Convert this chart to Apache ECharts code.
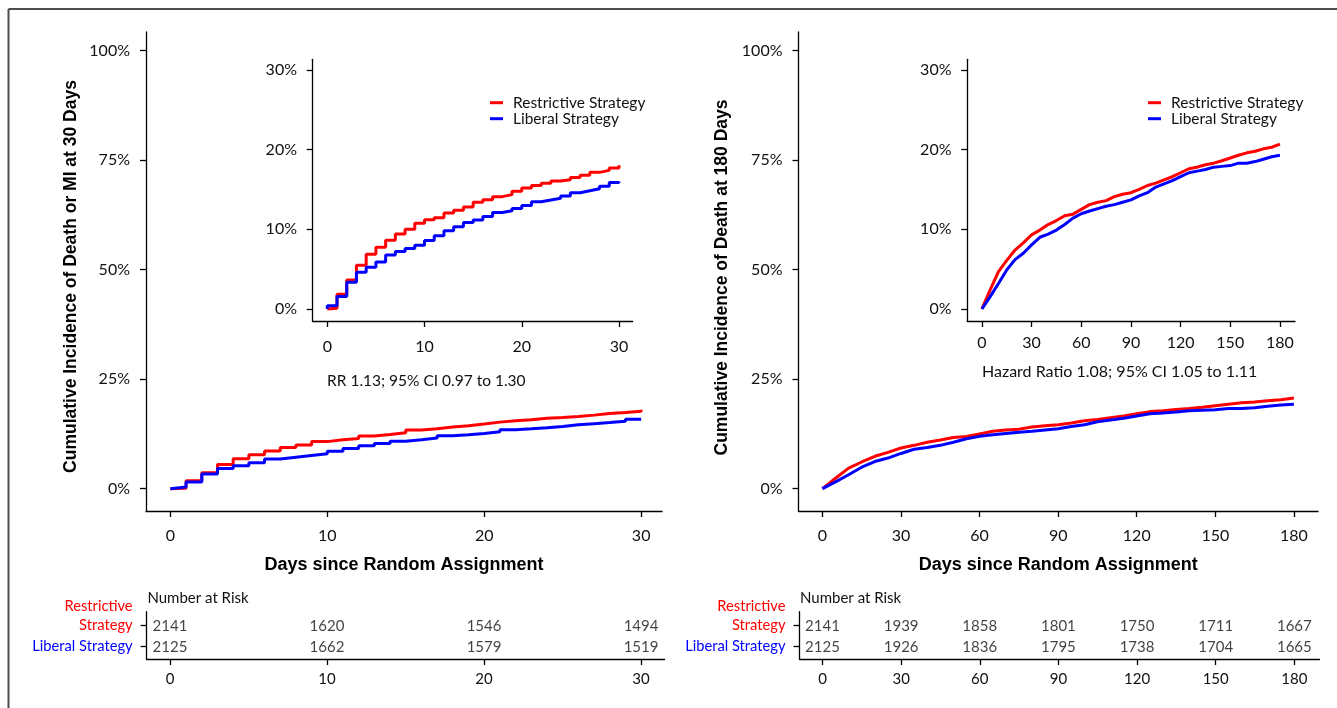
<!DOCTYPE html>
<html><head><meta charset="utf-8">
<script src="https://cdn.jsdelivr.net/npm/echarts@6/dist/echarts.min.js"></script>
<style>html,body{margin:0;padding:0;background:#fff}#c{width:1337px;height:708px}</style>
</head><body><div id="c"></div>
<script>
// ---------- data ----------
const seriesNames = ['Restrictive Strategy', 'Liberal Strategy'];
const days30 = [0,1,2,3,4,5,6,7,8,9,10,11,12,13,14,15,16,17,18,19,20,21,22,23,24,25,26,27,28,29,30];
const restrictive30 = [0.1,1.84,3.64,5.5,6.86,7.74,8.62,9.4,10.0,10.75,11.2,11.46,12.05,12.4,12.8,13.4,13.7,14.1,14.35,14.77,15.2,15.5,15.77,16.07,16.23,16.5,16.8,17.15,17.4,17.7,18.05];
const liberal30 = [0.4,1.55,3.35,4.6,5.23,5.9,6.78,7.2,7.6,8.0,8.58,9.2,9.83,10.33,10.84,11.17,11.6,12.1,12.34,12.6,13.0,13.47,13.68,13.9,14.18,14.6,14.85,15.1,15.4,15.86,16.0];
const days180 = [0,5,10,15,20,25,30,35,40,45,50,55,60,65,70,75,80,85,90,95,100,105,110,115,120,125,130,135,140,145,150,155,160,165,170,175,180];
const restrictive180 = [0,2.4,4.7,6.1,7.4,8.3,9.3,9.9,10.6,11.1,11.7,11.9,12.5,13.1,13.4,13.6,14.1,14.4,14.6,15.0,15.5,15.8,16.2,16.6,17.1,17.6,17.8,18.1,18.3,18.6,18.95,19.3,19.6,19.8,20.1,20.3,20.7];
const liberal180 = [0,1.55,3.2,4.9,6.2,7.0,8.05,9.0,9.4,9.9,10.6,11.4,11.95,12.3,12.6,12.9,13.1,13.4,13.7,14.2,14.6,15.3,15.7,16.1,16.6,17.1,17.3,17.5,17.8,17.9,18.0,18.3,18.3,18.5,18.8,19.1,19.3];
const riskDays30 = [0,10,20,30];
const riskRestrictive30 = [2141,1620,1546,1494];
const riskLiberal30 = [2125,1662,1579,1519];
const riskDays180 = [0,30,60,90,120,150,180];
const riskRestrictive180 = [2141,1939,1858,1801,1750,1711,1667];
const riskLiberal180 = [2125,1926,1836,1795,1738,1704,1665];
const yTicksMain = [0,25,50,75,100];
const yTicksInset = [0,10,20,30];
const xTicks30 = [0,10,20,30];
const xTicks180 = [0,30,60,90,120,150,180];
const titleY30 = 'Cumulative Incidence of Death or MI at 30 Days';
const titleY180 = 'Cumulative Incidence of Death at 180 Days';
const titleX = 'Days since Random Assignment';
const note30 = 'RR 1.13; 95% CI 0.97 to 1.30';
const note180 = 'Hazard Ratio 1.08; 95% CI 1.05 to 1.11';
const riskTitle = 'Number at Risk';
const rowLabelRestrictive = ['Restrictive', 'Strategy'];
const rowLabelLiberal = 'Liberal Strategy';

// ---------- styling ----------
const FONT = "Lato, 'Open Sans', sans-serif";
const BOLD = "'Liberation Sans', Arial, sans-serif";
const RED = '#ff0000', BLUE = '#0000ff', INK = '#111111';

const chart = echarts.init(document.getElementById('c'), null, {renderer: 'canvas'});

function axisBase(ticks, fmt, margin, size) {
  return {
    type: 'value',
    axisLine: {show: true, onZero: false, lineStyle: {color: '#000', width: 1.3}},
    axisTick: {show: true, length: 6, customValues: ticks, lineStyle: {color: '#000', width: 1.3}},
    axisLabel: {customValues: ticks, formatter: fmt, margin: margin, hideOverlap: false,
      color: INK, fontFamily: FONT, fontSize: size || 16},
    splitLine: {show: false}
  };
}
const pct = v => v + '%';
const num = v => String(v);
const titleStyle = (size, pad) => ({fontFamily: BOLD, fontWeight: 'bold', fontSize: size, color: '#000', padding: pad || 0});

const grids = [
  {left: 146, top: 32, width: 516, height: 479},        // 0 left main
  {left: 312.7, top: 59.3, width: 320, height: 261.7},  // 1 left inset
  {left: 146.6, top: 611.7, width: 518, height: 47.3},  // 2 left table
  {left: 798.5, top: 32, width: 519.5, height: 479},    // 3 right main
  {left: 967.2, top: 59.3, width: 327.8, height: 261.7},// 4 right inset
  {left: 799.5, top: 611.7, width: 520, height: 47.3}   // 5 right table
];

const xAxes = [
  Object.assign(axisBase(xTicks30, num, 17), {gridIndex: 0, min: -1.555, max: 31.33,
    name: titleX, nameLocation: 'middle', nameGap: 45, nameTextStyle: titleStyle(18)}),
  Object.assign(axisBase(xTicks30, num, 18), {gridIndex: 1, min: -1.50, max: 31.41}),
  Object.assign(axisBase(riskDays30, num, 13, 15), {gridIndex: 2, min: -1.49, max: 31.5}),
  Object.assign(axisBase(xTicks180, num, 17), {gridIndex: 3, min: -9.13, max: 189.2,
    name: titleX, nameLocation: 'middle', nameGap: 45, nameTextStyle: titleStyle(18)}),
  Object.assign(axisBase(xTicks180, num, 13.5), {gridIndex: 4, min: -8.88, max: 189.1}),
  Object.assign(axisBase(riskDays180, num, 13, 15), {gridIndex: 5, min: -8.77, max: 189.6})
];

const rowFmt = v => (v < 1.5) ? '{r|' + rowLabelRestrictive[1] + '}' : '{b|' + rowLabelLiberal + '}';
const rowRich = {r: {color: RED, fontFamily: FONT, fontSize: 14.7, align: 'right'},
                 b: {color: BLUE, fontFamily: FONT, fontSize: 14.7, align: 'right'}};

const yAxes = [
  Object.assign(axisBase(yTicksMain, pct, 16), {gridIndex: 0, min: -5.09, max: 104.27,
    name: titleY30, nameLocation: 'middle', nameGap: 66, nameTextStyle: titleStyle(17.5, [0, 10, 0, 0])}),
  Object.assign(axisBase(yTicksInset, pct, 15.7), {gridIndex: 1, min: -1.51, max: 31.34}),
  Object.assign(axisBase([1, 2], rowFmt, 14), {gridIndex: 2, min: 0.333, max: 2.586, inverse: true}),
  Object.assign(axisBase(yTicksMain, pct, 16), {gridIndex: 3, min: -5.09, max: 104.27,
    name: titleY180, nameLocation: 'middle', nameGap: 67, nameTextStyle: titleStyle(17.5, [0, 12, 0, 0])}),
  Object.assign(axisBase(yTicksInset, pct, 15.7), {gridIndex: 4, min: -1.51, max: 31.34}),
  Object.assign(axisBase([1, 2], rowFmt, 14), {gridIndex: 5, min: 0.333, max: 2.586, inverse: true})
];
yAxes[2].axisLabel.rich = rowRich;
yAxes[5].axisLabel.rich = rowRich;

function stepData(days, vals) {
  const d = [[0, 0]];
  days.forEach((t, i) => d.push([t, vals[i]]));
  return d;
}
function pairData(days, vals) { return days.map((t, i) => [t, vals[i]]); }

function curve(name, color, data, gi, step) {
  return {type: 'line', name: name, xAxisIndex: gi, yAxisIndex: gi, data: data,
    step: step ? 'end' : false, symbol: 'none', showSymbol: false,
    lineStyle: {color: color, width: 3}, itemStyle: {color: color}, silent: true};
}
function riskSeries(gi, days, vals, row) {
  return {type: 'scatter', xAxisIndex: gi, yAxisIndex: gi, symbolSize: 1,
    itemStyle: {color: 'rgba(0,0,0,0)'}, silent: true,
    data: days.map((t, i) => [t, row, vals[i]]),
    label: {show: true, position: 'inside', formatter: p => String(p.value[2]),
      color: INK, fontFamily: FONT, fontSize: 15}};
}

const series = [];
[0, 1].forEach(gi => {
  series.push(curve(seriesNames[0], RED, stepData(days30, restrictive30), gi, true));
  series.push(curve(seriesNames[1], BLUE, stepData(days30, liberal30), gi, true));
});
[3, 4].forEach(gi => {
  series.push(curve(seriesNames[0], RED, pairData(days180, restrictive180), gi, false));
  series.push(curve(seriesNames[1], BLUE, pairData(days180, liberal180), gi, false));
});
series.push(riskSeries(2, riskDays30, riskRestrictive30, 1));
series.push(riskSeries(2, riskDays30, riskLiberal30, 2));
series.push(riskSeries(5, riskDays180, riskRestrictive180, 1));
series.push(riskSeries(5, riskDays180, riskLiberal180, 2));

function legendAt(left) {
  return {data: seriesNames, orient: 'vertical', left: left, top: 94.7, padding: 0, icon: 'rect',
    itemWidth: 13, itemHeight: 3, itemGap: 0, selectedMode: false,
    textStyle: {fontFamily: FONT, fontSize: 15.5, color: INK, lineHeight: 16, padding: [0, 0, 0, 5]}};
}

const noteStyle = size => ({font: size + 'px ' + FONT, fill: INK, textVerticalAlign: 'middle'});
const rowWordStyle = {font: '14.7px ' + FONT, fill: RED, textAlign: 'right', textVerticalAlign: 'middle'};
chart.setOption({
  animation: false,
  grid: grids,
  xAxis: xAxes,
  yAxis: yAxes,
  legend: [legendAt(490), legendAt(1148)],
  series: series,
  graphic: [
    {type: 'line', shape: {x1: 8.5, y1: 708, x2: 8.5, y2: 9}, style: {stroke: '#4d4d4d', lineWidth: 2}},
    {type: 'line', shape: {x1: 8.5, y1: 9, x2: 1337, y2: 9}, style: {stroke: '#4d4d4d', lineWidth: 2}},
    {type: 'text', x: 327, y: 381, style: Object.assign({text: note30}, noteStyle(15.5))},
    {type: 'text', x: 982, y: 372, style: Object.assign({text: note180}, noteStyle(16))},
    {type: 'text', x: 147.4, y: 598, style: Object.assign({text: riskTitle}, noteStyle(15))},
    {type: 'text', x: 800, y: 598, style: Object.assign({text: riskTitle}, noteStyle(15))},
    {type: 'text', x: 132.6, y: 606.5, style: Object.assign({text: rowLabelRestrictive[0]}, rowWordStyle)},
    {type: 'text', x: 785.5, y: 606.5, style: Object.assign({text: rowLabelRestrictive[0]}, rowWordStyle)}
  ]
});
</script></body></html>
